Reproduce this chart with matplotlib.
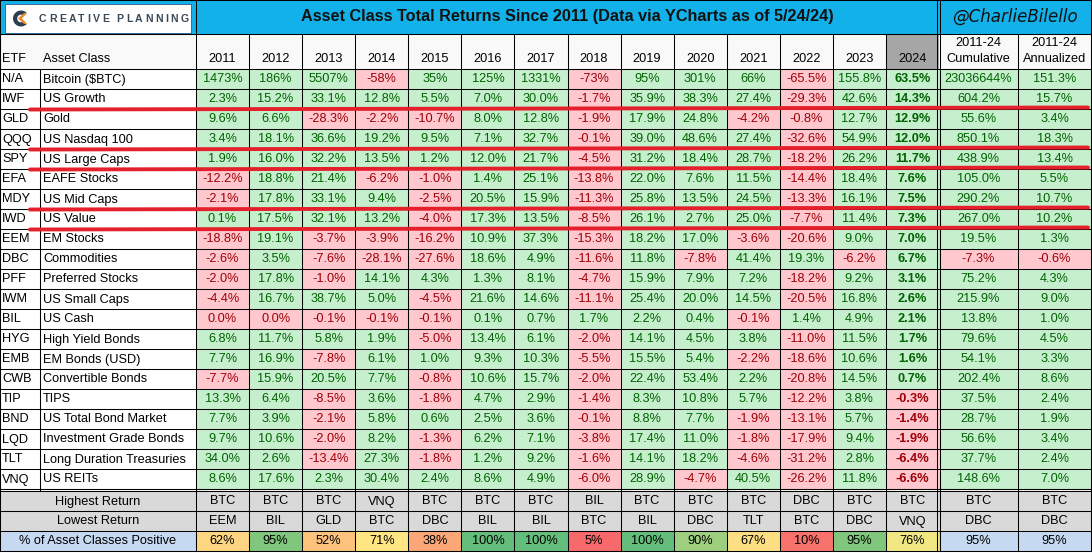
import numpy as np
import matplotlib.pyplot as plt
from matplotlib.patches import Rectangle, Wedge, Polygon
from matplotlib.colors import LinearSegmentedColormap, TwoSlopeNorm

plt.rcParams['font.family'] = ['Liberation Sans', 'DejaVu Sans']

# ---- data -------------------------------------------------------------
years = [str(y) for y in range(2011, 2025)]

etfs = ["N/A", "IWF", "GLD", "QQQ", "SPY", "EFA", "MDY", "IWD", "EEM", "DBC", "PFF",
        "IWM", "BIL", "HYG", "EMB", "CWB", "TIP", "BND", "LQD", "TLT", "VNQ"]
asset_classes = ["Bitcoin ($BTC)", "US Growth", "Gold", "US Nasdaq 100", "US Large Caps",
                 "EAFE Stocks", "US Mid Caps", "US Value", "EM Stocks", "Commodities",
                 "Preferred Stocks", "US Small Caps", "US Cash", "High Yield Bonds",
                 "EM Bonds (USD)", "Convertible Bonds", "TIPS", "US Total Bond Market",
                 "Investment Grade Bonds", "Long Duration Treasuries", "US REITs"]

ret_btc = [1473, 186, 5507, -58, 35, 125, 1331, -73, 95, 301, 66, -65.5, 155.8, 63.5]
ret_iwf = [2.3, 15.2, 33.1, 12.8, 5.5, 7.0, 30.0, -1.7, 35.9, 38.3, 27.4, -29.3, 42.6, 14.3]
ret_gld = [9.6, 6.6, -28.3, -2.2, -10.7, 8.0, 12.8, -1.9, 17.9, 24.8, -4.2, -0.8, 12.7, 12.9]
ret_qqq = [3.4, 18.1, 36.6, 19.2, 9.5, 7.1, 32.7, -0.1, 39.0, 48.6, 27.4, -32.6, 54.9, 12.0]
ret_spy = [1.9, 16.0, 32.2, 13.5, 1.2, 12.0, 21.7, -4.5, 31.2, 18.4, 28.7, -18.2, 26.2, 11.7]
ret_efa = [-12.2, 18.8, 21.4, -6.2, -1.0, 1.4, 25.1, -13.8, 22.0, 7.6, 11.5, -14.4, 18.4, 7.6]
ret_mdy = [-2.1, 17.8, 33.1, 9.4, -2.5, 20.5, 15.9, -11.3, 25.8, 13.5, 24.5, -13.3, 16.1, 7.5]
ret_iwd = [0.1, 17.5, 32.1, 13.2, -4.0, 17.3, 13.5, -8.5, 26.1, 2.7, 25.0, -7.7, 11.4, 7.3]
ret_eem = [-18.8, 19.1, -3.7, -3.9, -16.2, 10.9, 37.3, -15.3, 18.2, 17.0, -3.6, -20.6, 9.0, 7.0]
ret_dbc = [-2.6, 3.5, -7.6, -28.1, -27.6, 18.6, 4.9, -11.6, 11.8, -7.8, 41.4, 19.3, -6.2, 6.7]
ret_pff = [-2.0, 17.8, -1.0, 14.1, 4.3, 1.3, 8.1, -4.7, 15.9, 7.9, 7.2, -18.2, 9.2, 3.1]
ret_iwm = [-4.4, 16.7, 38.7, 5.0, -4.5, 21.6, 14.6, -11.1, 25.4, 20.0, 14.5, -20.5, 16.8, 2.6]
ret_bil = [0.0, 0.0, -0.1, -0.1, -0.1, 0.1, 0.7, 1.7, 2.2, 0.4, -0.1, 1.4, 4.9, 2.1]
ret_hyg = [6.8, 11.7, 5.8, 1.9, -5.0, 13.4, 6.1, -2.0, 14.1, 4.5, 3.8, -11.0, 11.5, 1.7]
ret_emb = [7.7, 16.9, -7.8, 6.1, 1.0, 9.3, 10.3, -5.5, 15.5, 5.4, -2.2, -18.6, 10.6, 1.6]
ret_cwb = [-7.7, 15.9, 20.5, 7.7, -0.8, 10.6, 15.7, -2.0, 22.4, 53.4, 2.2, -20.8, 14.5, 0.7]
ret_tip = [13.3, 6.4, -8.5, 3.6, -1.8, 4.7, 2.9, -1.4, 8.3, 10.8, 5.7, -12.2, 3.8, -0.3]
ret_bnd = [7.7, 3.9, -2.1, 5.8, 0.6, 2.5, 3.6, -0.1, 8.8, 7.7, -1.9, -13.1, 5.7, -1.4]
ret_lqd = [9.7, 10.6, -2.0, 8.2, -1.3, 6.2, 7.1, -3.8, 17.4, 11.0, -1.8, -17.9, 9.4, -1.9]
ret_tlt = [34.0, 2.6, -13.4, 27.3, -1.8, 1.2, 9.2, -1.6, 14.1, 18.2, -4.6, -31.2, 2.8, -6.4]
ret_vnq = [8.6, 17.6, 2.3, 30.4, 2.4, 8.6, 4.9, -6.0, 28.9, -4.7, 40.5, -26.2, 11.8, -6.6]

cumulative = [23036644, 604.2, 55.6, 850.1, 438.9, 105.0, 290.2, 267.0, 19.5, -7.3, 75.2,
              215.9, 13.8, 79.6, 54.1, 202.4, 37.5, 28.7, 56.6, 37.7, 148.6]
annualized = [151.3, 15.7, 3.4, 18.3, 13.4, 5.5, 10.7, 10.2, 1.3, -0.6, 4.3,
              9.0, 1.0, 4.5, 3.3, 8.6, 2.4, 1.9, 3.4, 2.4, 7.0]

# bitcoin's early years are shown without decimals
btc_decimals = [0] * 11 + [1] * 3

highest = ["BTC", "BTC", "BTC", "VNQ", "BTC", "BTC", "BTC", "BIL", "BTC", "BTC", "BTC",
           "DBC", "BTC", "BTC", "BTC", "BTC"]
lowest = ["EEM", "BIL", "GLD", "BTC", "DBC", "BIL", "BIL", "BTC", "BIL", "DBC", "TLT",
          "BTC", "DBC", "VNQ", "DBC", "DBC"]
pct_positive = [62, 95, 52, 71, 38, 100, 100, 5, 100, 90, 67, 10, 95, 76, 95, 95]

# rows that got a red line drawn underneath
underlined = ["IWF", "QQQ", "SPY", "MDY", "IWD"]

returns = [ret_btc, ret_iwf, ret_gld, ret_qqq, ret_spy, ret_efa, ret_mdy, ret_iwd, ret_eem,
           ret_dbc, ret_pff, ret_iwm, ret_bil, ret_hyg, ret_emb, ret_cwb, ret_tip, ret_bnd,
           ret_lqd, ret_tlt, ret_vnq]

# ---- layout (pixel units) --------------------------------------------
W, H = 1092, 553
TITLE_H = 34
HEAD_Y1 = 69
ROW_H = 20
X_ASSET, X_YEAR, X_CUM, X_ANN, X_END = 40, 196, 939, 1018, 1091
YW = (X_CUM - X_YEAR) / len(years)
SUM_Y0 = HEAD_Y1 + ROW_H * len(etfs) + 2

GREEN_BG, GREEN_TX = "#C6EFCE", "#006100"
RED_BG, RED_TX = "#FFC7CE", "#9C0006"
GREY = "#D9D9D9"
BLUE_LIGHT = "#C5D9F1"
FS = 9.2

fig = plt.figure(figsize=(W / 100, H / 100), dpi=100)
ax = fig.add_axes([0, 0, 1, 1])
ax.set_xlim(0, W)
ax.set_ylim(H, 0)
ax.axis("off")


def cell(x0, y0, w, h, color):
    ax.add_patch(Rectangle((x0, y0), w, h, facecolor=color, edgecolor="none", zorder=1))


def fmt(v, d=1):
    return f"{v:.{d}f}%"


# title band
cell(0, 0, W, TITLE_H, "#13B1EA")
ax.add_patch(Rectangle((5, 4), 186, 29, facecolor="white", edgecolor="#2B5A8A", lw=0.6, zorder=2))
ax.add_patch(Wedge((21, 18.5), 8, 45, 315, width=4.2, facecolor="#2D3E4E", zorder=3))
ax.add_patch(Polygon([[18, 18.5], [24, 13], [27, 13], [22, 18.5], [27, 24], [24, 24]],
                     closed=True, facecolor="#E8892B", zorder=3))

# letter-spaced logo wordmark
renderer = fig.canvas.get_renderer()
x = 39
for ch in "CREATIVE PLANNING":
    t = ax.text(x, 18.5, ch, fontsize=7.6, fontweight="bold", color="#3B4A57",
                ha="left", va="center", zorder=3)
    w = t.get_window_extent(renderer).width if ch != " " else 3
    x += w + 2.4

ax.text((X_YEAR + X_CUM) / 2, 17, "Asset Class Total Returns Since 2011 (Data via YCharts as of 5/24/24)",
        fontsize=11.7, fontweight="bold", ha="center", va="center", color="#111111", zorder=3)
ax.text((X_CUM + X_END) / 2, 17, "@CharlieBilello", fontsize=12, style="italic",
        family="DejaVu Sans", ha="center", va="center", color="#111111", zorder=3)

# header row
cell(0, TITLE_H, W, HEAD_Y1 - TITLE_H, "#F9F9F9")
cell(X_YEAR + 13 * YW, TITLE_H, YW, HEAD_Y1 - TITLE_H, "#A6A6A6")
hy = HEAD_Y1 - 10
ax.text(2, hy, "ETF", fontsize=FS, ha="left", va="center", zorder=3)
ax.text(X_ASSET + 3, hy, "Asset Class", fontsize=FS, ha="left", va="center", zorder=3)
for j, yr in enumerate(years):
    ax.text(X_YEAR + (j + 0.5) * YW, hy, yr, fontsize=FS, ha="center", va="center", zorder=3)
for x0, x1 in [(X_CUM, X_ANN), (X_ANN, X_END)]:
    ax.text((x0 + x1) / 2, TITLE_H + 9, "2011-24", fontsize=FS, ha="center", va="center", zorder=3)
ax.text((X_CUM + X_ANN) / 2, hy, "Cumulative", fontsize=FS, ha="center", va="center", zorder=3)
ax.text((X_ANN + X_END) / 2, hy, "Annualized", fontsize=FS, ha="center", va="center", zorder=3)

# data rows
for i, (etf, name, vals) in enumerate(zip(etfs, asset_classes, returns)):
    y0 = HEAD_Y1 + i * ROW_H
    yc = y0 + ROW_H / 2 + 0.5
    cell(0, y0, X_YEAR, ROW_H, "white")
    ax.text(2, yc, etf, fontsize=FS, ha="left", va="center", zorder=3)
    ax.text(X_ASSET + 3, yc, name, fontsize=FS, ha="left", va="center", zorder=3)
    for j, v in enumerate(vals):
        pos = v > 0
        cell(X_YEAR + j * YW, y0, YW, ROW_H, GREEN_BG if pos else RED_BG)
        d = btc_decimals[j] if i == 0 else 1
        ax.text(X_YEAR + (j + 0.5) * YW, yc, fmt(v, d), fontsize=FS,
                fontweight="bold" if j == len(years) - 1 else "normal",
                color=GREEN_TX if pos else RED_TX, ha="center", va="center", zorder=3)
    for (x0, x1), v, d in [((X_CUM, X_ANN), cumulative[i], 0 if i == 0 else 1),
                           ((X_ANN, X_END), annualized[i], 1)]:
        pos = v > 0
        cell(x0, y0, x1 - x0, ROW_H, GREEN_BG if pos else RED_BG)
        ax.text((x0 + x1) / 2, yc, fmt(v, d), fontsize=FS, color=GREEN_TX if pos else RED_TX,
                ha="center", va="center", zorder=3)

# summary rows
scale = LinearSegmentedColormap.from_list("ryg", ["#F8696B", "#FFEB84", "#63BE7B"])
yr_pct = np.array(pct_positive[:len(years)])
norm = TwoSlopeNorm(vmin=yr_pct.min(), vcenter=np.percentile(yr_pct, 50), vmax=yr_pct.max())
col_spans = [(X_YEAR + j * YW, X_YEAR + (j + 1) * YW) for j in range(len(years))] + \
            [(X_CUM, X_ANN), (X_ANN, X_END)]
labels = ["Highest Return", "Lowest Return", "% of Asset Classes Positive"]
for r, (label, items) in enumerate(zip(labels, [highest, lowest, pct_positive])):
    y0 = SUM_Y0 + r * ROW_H
    yc = y0 + ROW_H / 2 + 0.5
    cell(0, y0, W, ROW_H, GREY)
    if r == 2:
        cell(0, y0, X_YEAR, ROW_H, BLUE_LIGHT)
    ax.text(X_YEAR / 2, yc, label, fontsize=FS, ha="center", va="center", zorder=3)
    for j, ((x0, x1), item) in enumerate(zip(col_spans, items)):
        txt = item
        if r == 2:
            color = scale(norm(item)) if j < len(years) else BLUE_LIGHT
            cell(x0, y0, x1 - x0, ROW_H, color)
            txt = f"{item}%"
        ax.text((x0 + x1) / 2, yc, txt, fontsize=FS, ha="center", va="center", zorder=3)

# grid lines
lw = 0.75
y_bottom = SUM_Y0 + 3 * ROW_H
h_lines = [0, TITLE_H, HEAD_Y1] + [HEAD_Y1 + k * ROW_H for k in range(1, len(etfs) + 1)] + \
          [SUM_Y0 + k * ROW_H for k in range(0, 4)]
for y in h_lines:
    ax.plot([0, X_END], [y, y], color="black", lw=lw, zorder=4, solid_capstyle="butt")
v_data = [0, X_ASSET] + [X_YEAR + j * YW for j in range(1, len(years))] + [X_ANN, X_END]
for x in v_data:
    y_start = HEAD_Y1 if x == X_ASSET else TITLE_H
    ax.plot([x, x], [y_start, SUM_Y0], color="black", lw=lw, zorder=4)
for x in [X_YEAR + j * YW for j in range(1, len(years))] + [X_ANN]:
    ax.plot([x, x], [SUM_Y0, y_bottom], color="black", lw=lw, zorder=4)
for x in [0, X_END]:
    ax.plot([x, x], [0, y_bottom], color="black", lw=lw, zorder=4)
ax.plot([X_YEAR, X_YEAR], [0, y_bottom], color="black", lw=lw, zorder=4)
# double lines
for x in [X_CUM - 2, X_CUM + 1]:
    ax.plot([x, x], [0, y_bottom], color="black", lw=lw, zorder=4)
ax.plot([0, X_END], [SUM_Y0 - 2, SUM_Y0 - 2], color="black", lw=lw, zorder=4)

# red annotation lines
for etf in underlined:
    y = HEAD_Y1 + (etfs.index(etf) + 1) * ROW_H - 0.5
    ax.plot([30, 1088], [y + 1, y - 1], color="#E3202B", lw=2.8, zorder=5, solid_capstyle="round")

fig.savefig("out.png", dpi=100)
